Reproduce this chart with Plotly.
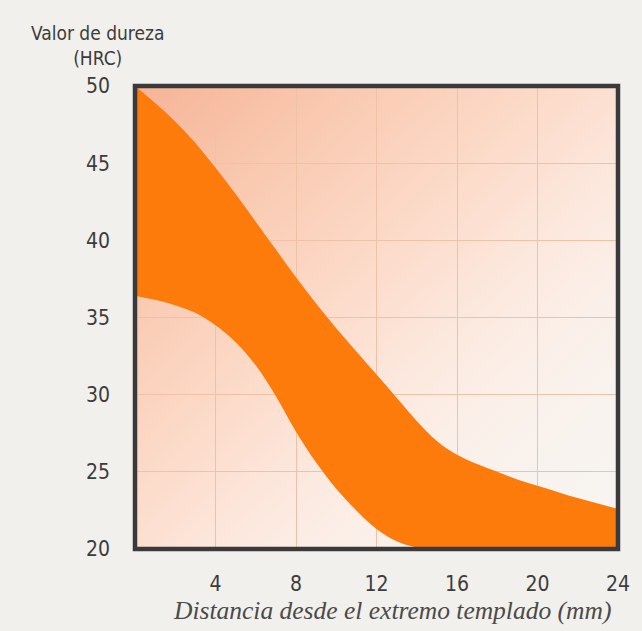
import base64
import plotly.graph_objects as go

# ---- data ----
distance_mm = [0, 1, 2, 3, 4, 5, 6, 7, 8, 9, 10, 11, 12, 13, 14, 15, 16, 17, 18, 19, 20, 21, 22, 23, 24]
hardness_max = [50.0, 48.9, 47.7, 46.3, 44.7, 43.0, 41.2, 39.4, 37.6, 35.9, 34.3, 32.8, 31.3, 29.8, 28.3,
                27.0, 26.1, 25.5, 25.0, 24.5, 24.1, 23.7, 23.3, 22.95, 22.6]
hardness_min = [36.4, 36.15, 35.8, 35.3, 34.5, 33.4, 31.9, 29.9, 27.6, 25.6, 23.9, 22.5, 21.3, 20.5, 20.1,
                20.0, 20.0, 20.0, 20.0, 20.0, 20.0, 20.0, 20.0, 20.0, 20.0]
x_ticks = [4, 8, 12, 16, 20, 24]
x_ticktext = ["4", "8", "12", "16", "20", "24"]
y_ticks = [20, 25, 30, 35, 40, 45, 50]
y_title = "Valor de dureza<br>(HRC)"
x_title = "Distancia desde el extremo templado (mm)"

BAND = "#fd7b0b"
FRAME = "#3a393b"
GRID = "#efc1a5"
PAGE = "#f1f0ed"
NARROW = "Liberation Sans Narrow, Arial Narrow, DejaVu Sans Condensed, Liberation Sans, sans-serif"
TICK_FONT = dict(family=NARROW, size=21, color="#3c3c3c")

# background gradient (top-left salmon fading to near white at bottom-right)
svg = (
    '<svg xmlns="http://www.w3.org/2000/svg" width="100" height="100" viewBox="0 0 100 100" preserveAspectRatio="none">'
    '<defs><linearGradient id="g" x1="0" y1="0" x2="1" y2="1" gradientUnits="objectBoundingBox">'
    '<stop offset="0" stop-color="#f5b497"/>'
    '<stop offset="0.22" stop-color="#f9c9b0"/>'
    '<stop offset="0.45" stop-color="#fcdccb"/>'
    '<stop offset="0.58" stop-color="#fce7dc"/>'
    '<stop offset="0.7" stop-color="#fbefe8"/>'
    '<stop offset="0.85" stop-color="#f8f3ef"/>'
    '<stop offset="1" stop-color="#f7f4f1"/>'
    '</linearGradient></defs>'
    '<rect x="0" y="0" width="100" height="100" fill="url(#g)"/></svg>'
)
svg_uri = "data:image/svg+xml;base64," + base64.b64encode(svg.encode()).decode()

fig = go.Figure()
fig.add_trace(go.Scatter(
    x=distance_mm, y=hardness_min, mode="lines",
    line=dict(color=BAND, width=0, shape="spline", smoothing=1.0),
    hoverinfo="skip", showlegend=False,
))
fig.add_trace(go.Scatter(
    x=distance_mm, y=hardness_max, mode="lines",
    line=dict(color=BAND, width=0, shape="spline", smoothing=1.0),
    fill="tonexty", fillcolor=BAND,
    hoverinfo="skip", showlegend=False,
))

fig.update_layout(
    width=642, height=631,
    margin=dict(l=135, r=22, t=86, b=82),
    paper_bgcolor=PAGE,
    plot_bgcolor="#fbe9de",
    showlegend=False,
    images=[dict(
        source=svg_uri, xref="paper", yref="paper", x=0, y=1, sizex=1, sizey=1,
        xanchor="left", yanchor="top", sizing="stretch", layer="below",
    )],
    shapes=[dict(
        type="rect", xref="paper", yref="paper", x0=0, y0=0, x1=1, y1=1,
        line=dict(color=FRAME, width=4.5), fillcolor="rgba(0,0,0,0)", layer="above",
    )],
    annotations=[
        dict(text=y_title, xref="paper", yref="paper", x=-0.078, y=1.1425,
             xanchor="center", yanchor="top", showarrow=False, align="center",
             font=dict(family=NARROW, size=19, color="#3c3c3c")),
        dict(text=x_title, xref="paper", yref="paper", x=0.532, y=-0.132,
             xanchor="center", yanchor="middle", showarrow=False,
             font=dict(family="Liberation Serif, Times New Roman, serif", size=25.5, color="#4a4a4a",
                       style="italic")),
    ],
)
fig.update_xaxes(
    range=[0, 24], tickvals=x_ticks, ticktext=x_ticktext,
    showgrid=True, gridcolor=GRID, gridwidth=1,
    zeroline=False, showline=False, ticks="", ticklabelstandoff=20,
    tickfont=TICK_FONT, fixedrange=True,
)
fig.update_yaxes(
    range=[20, 50], tickvals=y_ticks,
    showgrid=True, gridcolor=GRID, gridwidth=1,
    zeroline=False, showline=False, ticks="", ticklabelstandoff=24,
    tickfont=TICK_FONT, fixedrange=True,
)

page_fix = (
    "document.documentElement.style.margin='0';"
    "document.body.style.margin='0';"
    "document.body.style.background='" + PAGE + "';"
    "document.body.style.overflow='hidden';"
)
fig.write_html("out.html", post_script=page_fix, config={"displayModeBar": False})
